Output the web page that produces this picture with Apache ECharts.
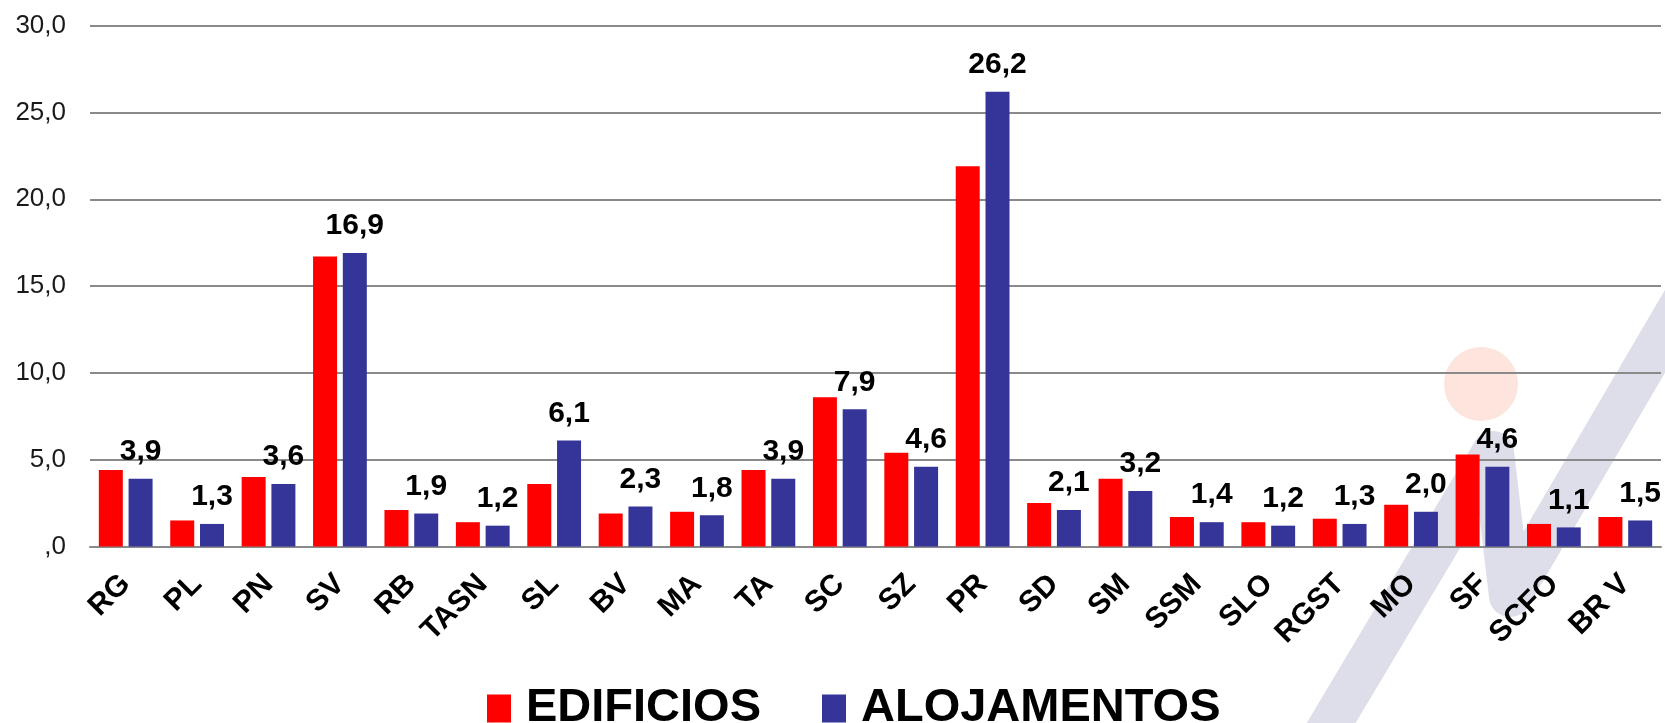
<!DOCTYPE html>
<html>
<head>
<meta charset="utf-8">
<script src="https://cdn.jsdelivr.net/npm/echarts@6/dist/echarts.min.js"></script>
<style>html,body{margin:0;padding:0;background:#fff;}#c{width:1665px;height:723px;}</style>
</head>
<body>
<div id="c"></div>
<script>
const categories = ['RG','PL','PN','SV','RB','TASN','SL','BV','MA','TA','SC','SZ','PR','SD','SM','SSM','SLO','RGST','MO','SF','SCFO','BR V'];
const edificios = [4.4,1.5,4.0,16.7,2.1,1.4,3.6,1.9,2.0,4.4,8.6,5.4,21.9,2.5,3.9,1.7,1.4,1.6,2.4,5.3,1.3,1.7];
const alojamentos = [3.9,1.3,3.6,16.9,1.9,1.2,6.1,2.3,1.8,3.9,7.9,4.6,26.2,2.1,3.2,1.4,1.2,1.3,2.0,4.6,1.1,1.5];
const yTicks = [0,5,10,15,20,25,30];

function fmt(v){ return v === 0 ? ',0' : Number(v).toFixed(1).replace('.', ','); }

const chart = echarts.init(document.getElementById('c'));
chart.setOption({
  animation: false,
  backgroundColor: '#ffffff',
  textStyle: { fontFamily: '"Liberation Sans", Arial, sans-serif' },
  graphic: {
    elements: [
      { type: 'circle', z: -10, silent: true, shape: { cx: 1481, cy: 384, r: 37 }, style: { fill: '#fde4dc' } },
      { type: 'polyline', z: -10, silent: true,
        shape: { points: [[1318, 745], [1493, 452], [1510, 596], [1695, 280]] },
        style: { stroke: '#dedeea', lineWidth: 42, fill: null, lineJoin: 'round', lineCap: 'butt' } }
    ]
  },
  grid: { left: 90, right: 4, top: 25.7, bottom: 176.5, containLabel: false },
  legend: {
    left: 482, top: 680,
    itemWidth: 24, itemHeight: 28, itemGap: 61,
    icon: 'rect',
    data: ['EDIFICIOS', 'ALOJAMENTOS'],
    textStyle: { fontWeight: 'bold', fontSize: 47, color: '#000', padding: [0, 0, 0, 10] }
  },
  xAxis: {
    type: 'category',
    data: categories,
    axisLine: { lineStyle: { color: '#8a8a8a', width: 2 } },
    axisTick: { show: false },
    axisLabel: { interval: 0, rotate: 45, margin: 33, fontSize: 30, fontWeight: 'bold', color: '#000' }
  },
  yAxis: {
    type: 'value',
    min: 0, max: 30, interval: 5,
    axisLine: { show: false },
    axisTick: { show: false },
    splitLine: { lineStyle: { color: '#8a8a8a', width: 2 } },
    axisLabel: { formatter: fmt, fontSize: 26, color: '#1a1a1a', margin: 24 }
  },
  series: [
    { name: 'EDIFICIOS', type: 'bar', data: edificios, barWidth: 24, barGap: '24%',
      itemStyle: { color: '#ff0000' } },
    { name: 'ALOJAMENTOS', type: 'bar', data: alojamentos, barWidth: 24, barGap: '24%',
      itemStyle: { color: '#353599' },
      label: { show: true, position: 'top', distance: 12, formatter: p => fmt(p.value), fontSize: 30, fontWeight: 'bold', color: '#000' } }
  ]
});
</script>
</body>
</html>
